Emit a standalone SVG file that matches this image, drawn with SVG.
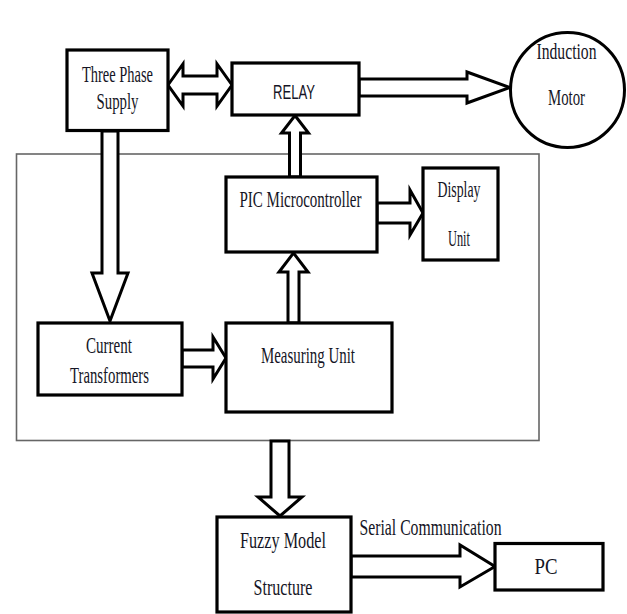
<svg xmlns="http://www.w3.org/2000/svg" width="627" height="614" viewBox="0 0 627 614">
<style>
.box{fill:#fff;stroke:#000;stroke-width:3.2}
.frame{fill:none;stroke:#666;stroke-width:1.6}
.arr{fill:#fff;stroke:#000;stroke-width:3;stroke-linejoin:miter}
.t{font-family:"Liberation Serif","Times New Roman",serif;font-size:23px;fill:#151525;text-anchor:middle}
.s{font-family:"Liberation Sans",Arial,sans-serif;font-size:21px;fill:#151525;text-anchor:middle}
</style>
<rect width="627" height="614" fill="#fff"/>
<rect class="frame" x="16.5" y="154" width="522.5" height="286.5"/>
<g id="connectors">
<polygon class="arr" points="168,85 183,64 183,76 217,76 217,64 232,85 217,106 217,94 183,94 183,106"/>
<polygon class="arr" points="359,79 467,79 467,72 510,87.5 467,103 467,96 359,96"/>
<polygon class="arr" points="102,131 118,131 118,273 128,273 110,321 92,273 102,273"/>
<polygon class="arr" points="289.5,177 289.5,133 281.5,133 295,115.5 308.5,133 300.5,133 300.5,177"/>
<polygon class="arr" points="288,323 288,272 279,272 293.5,253 308,272 299,272 299,323"/>
<polygon class="arr" points="182,350 213,350 213,337 226,358 213,379 213,367 182,367"/>
<polygon class="arr" points="377,203 410,203 410,190 423,213 410,235 410,223 377,223"/>
<polygon class="arr" points="271,441 289,441 289,497 302,497 280,516 258,497 271,497"/>
<polygon class="arr" points="351,556 460,556 460,545 495,566.5 460,587 460,577 351,577"/>
</g>
<g id="three-phase">
<rect class="box" x="67" y="50" width="101" height="80.5"/>
<text class="t" x="117.5" y="82" textLength="71" lengthAdjust="spacingAndGlyphs">Three Phase</text>
<text class="t" x="117.5" y="109" textLength="42" lengthAdjust="spacingAndGlyphs">Supply</text>
</g>
<g id="relay">
<rect class="box" x="232" y="63" width="127" height="52"/>
<text class="s" x="294" y="98.5" textLength="42" lengthAdjust="spacingAndGlyphs">RELAY</text>
</g>
<g id="induction-motor">
<ellipse cx="567.5" cy="90" rx="57" ry="57.5" fill="#fff" stroke="#000" stroke-width="3"/>
<text class="t" x="566.5" y="59" textLength="60" lengthAdjust="spacingAndGlyphs">Induction</text>
<text class="t" x="566.5" y="105" textLength="37" lengthAdjust="spacingAndGlyphs">Motor</text>
</g>
<g id="pic">
<rect class="box" x="226" y="177" width="151" height="75"/>
<text class="t" x="300.5" y="206.5" textLength="122" lengthAdjust="spacingAndGlyphs">PIC Microcontroller</text>
</g>
<g id="display">
<rect class="box" x="423" y="168" width="75" height="92"/>
<text class="t" x="459" y="196.5" textLength="43" lengthAdjust="spacingAndGlyphs">Display</text>
<text class="t" x="459" y="246" textLength="22" lengthAdjust="spacingAndGlyphs">Unit</text>
</g>
<g id="current-transformers">
<rect class="box" x="38" y="323" width="144" height="72"/>
<text class="t" x="109" y="353" textLength="46" lengthAdjust="spacingAndGlyphs">Current</text>
<text class="t" x="109.5" y="382.5" textLength="79" lengthAdjust="spacingAndGlyphs">Transformers</text>
</g>
<g id="measuring">
<rect class="box" x="226" y="323" width="166" height="89"/>
<text class="t" x="308" y="363" textLength="94" lengthAdjust="spacingAndGlyphs">Measuring Unit</text>
</g>
<g id="fuzzy">
<rect class="box" x="217" y="517" width="134" height="95"/>
<text class="t" x="283" y="548" textLength="86" lengthAdjust="spacingAndGlyphs">Fuzzy Model</text>
<text class="t" x="283" y="595" textLength="59" lengthAdjust="spacingAndGlyphs">Structure</text>
</g>
<g id="serial-label">
<text class="t" x="430.5" y="535" textLength="142" lengthAdjust="spacingAndGlyphs">Serial Communication</text>
</g>
<g id="pc">
<rect class="box" x="495" y="543.5" width="108" height="46.5"/>
<text class="t" x="546" y="574" textLength="23" lengthAdjust="spacingAndGlyphs">PC</text>
</g>
</svg>
